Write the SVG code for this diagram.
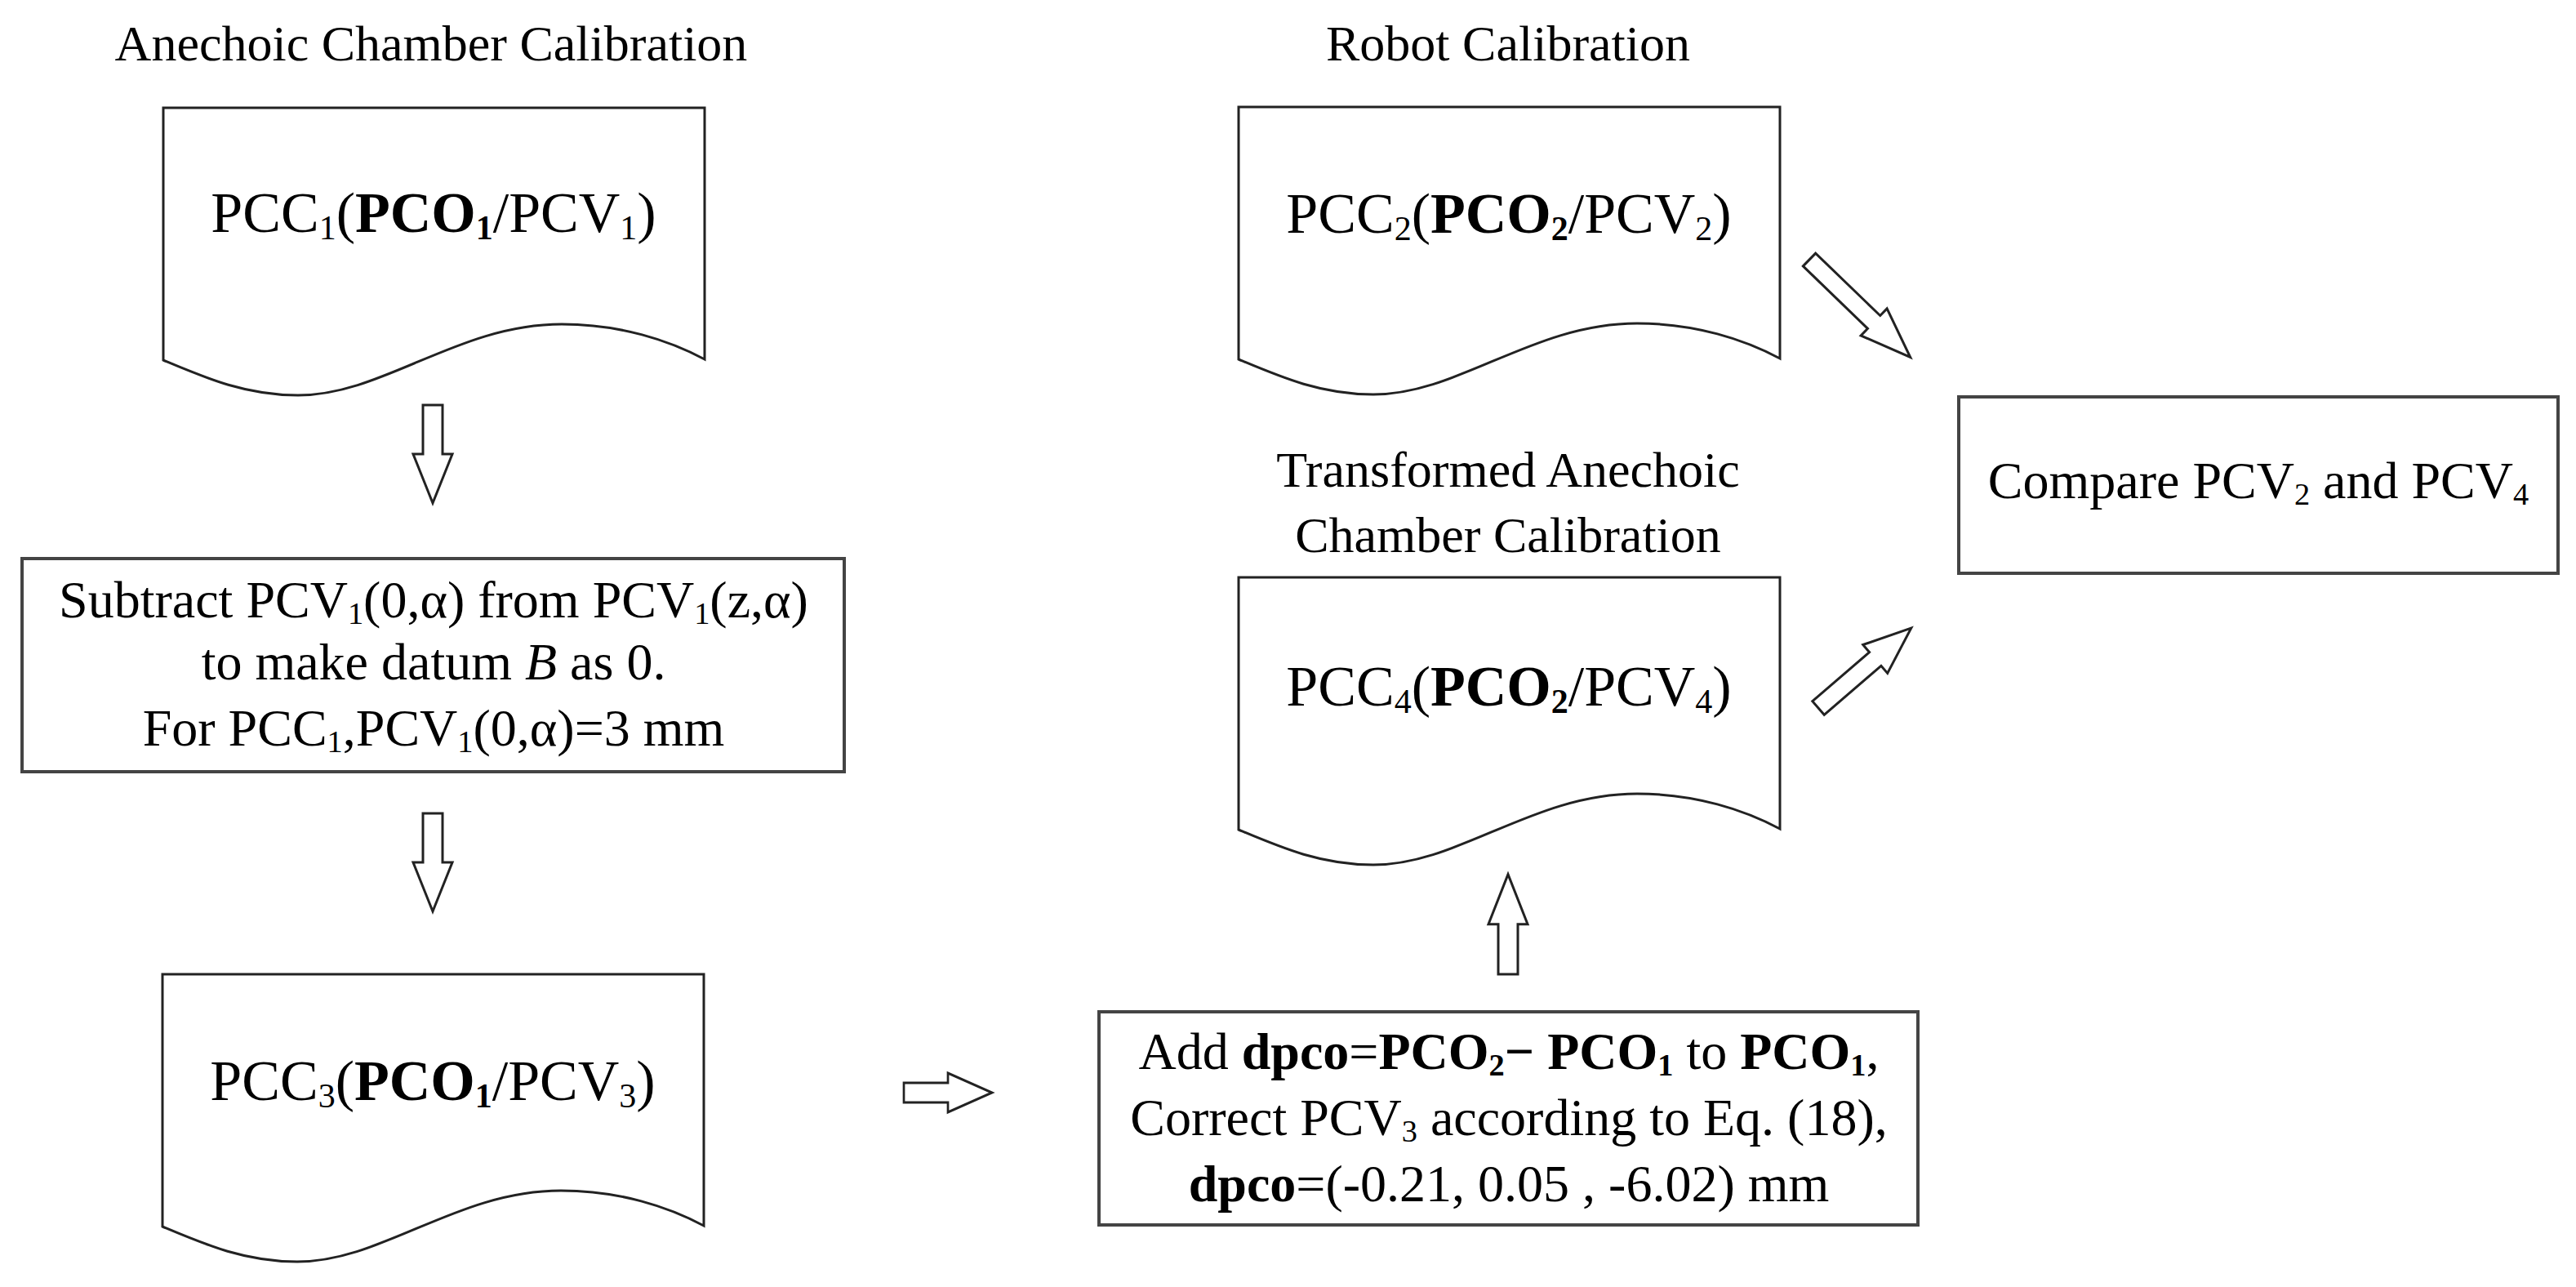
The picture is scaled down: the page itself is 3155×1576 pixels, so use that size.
<svg xmlns="http://www.w3.org/2000/svg" width="3155" height="1576" viewBox="0 0 3155 1576">
<style>
text{font-family:"Liberation Serif","Times New Roman",serif;fill:#000}
.t{font-size:62px}
.d{font-size:70px}
.b{font-size:64px}
.s{font-size:60%;baseline-shift:-22%}
.bold{font-weight:bold}
.shape{fill:#fff;stroke:#222;stroke-width:3}
.box{fill:#fff;stroke:#444;stroke-width:4}
</style>
<defs>
<path id="doc" d="M0,0 H663 V308 C620,285 560,265 488,265 C360,265 270,352 165,352 C100,352 50,330 0,309 Z"/>
<polygon id="ar" points="-12,0 12,0 12,60 24,60 0,120 -24,60 -12,60"/>
<polygon id="arL" points="-11,0 11,0 11,110 23,110 0,172 -23,110 -11,110"/>
<polygon id="arM" points="-11,0 11,0 11,92 23,92 0,150 -23,92 -11,92"/>
</defs>
<rect width="3155" height="1576" fill="#fff"/>
<g id="title1"><text class="t" x="528" y="74" text-anchor="middle">Anechoic Chamber Calibration</text></g>
<g id="title2"><text class="t" x="1847" y="74" text-anchor="middle">Robot Calibration</text></g>
<g id="title4"><text class="t" x="1847" y="596" text-anchor="middle">Transformed Anechoic</text><text class="t" x="1847" y="676" text-anchor="middle">Chamber Calibration</text></g>
<g id="doc1"><use href="#doc" class="shape" x="200" y="132"/><text class="d" x="531" y="284" text-anchor="middle">PCC<tspan class="s">1</tspan>(<tspan class="bold">PCO<tspan class="s">1</tspan></tspan>/PCV<tspan class="s">1</tspan>)</text></g>
<g id="doc2"><use href="#doc" class="shape" x="1517" y="131"/><text class="d" x="1848" y="285" text-anchor="middle">PCC<tspan class="s">2</tspan>(<tspan class="bold">PCO<tspan class="s">2</tspan></tspan>/PCV<tspan class="s">2</tspan>)</text></g>
<g id="doc3"><use href="#doc" class="shape" x="199" y="1193"/><text class="d" x="530" y="1347" text-anchor="middle">PCC<tspan class="s">3</tspan>(<tspan class="bold">PCO<tspan class="s">1</tspan></tspan>/PCV<tspan class="s">3</tspan>)</text></g>
<g id="doc4"><use href="#doc" class="shape" x="1517" y="707"/><text class="d" x="1848" y="864" text-anchor="middle">PCC<tspan class="s">4</tspan>(<tspan class="bold">PCO<tspan class="s">2</tspan></tspan>/PCV<tspan class="s">4</tspan>)</text></g>
<g id="box2"><rect class="box" x="27" y="684" width="1007" height="261"/>
<text class="b" x="531" y="756" text-anchor="middle">Subtract PCV<tspan class="s">1</tspan>(0,α) from PCV<tspan class="s">1</tspan>(z,α)</text>
<text class="b" x="531" y="832" text-anchor="middle">to make datum <tspan font-style="italic">B</tspan> as 0.</text>
<text class="b" x="531" y="913" text-anchor="middle">For PCC<tspan class="s">1</tspan>,PCV<tspan class="s">1</tspan>(0,α)=3 mm</text></g>
<g id="box4"><rect class="box" x="1346" y="1239" width="1003" height="261"/>
<text class="b" x="1848" y="1309" text-anchor="middle">Add <tspan class="bold">dpco</tspan>=<tspan class="bold">PCO<tspan class="s">2</tspan>− PCO<tspan class="s">1</tspan></tspan> to <tspan class="bold">PCO<tspan class="s">1</tspan></tspan>,</text>
<text class="b" x="1848" y="1390" text-anchor="middle">Correct PCV<tspan class="s">3</tspan> according to Eq. (18),</text>
<text class="b" x="1848" y="1471" text-anchor="middle"><tspan class="bold">dpco</tspan>=(-0.21, 0.05 , -6.02) mm</text></g>
<g id="compare"><rect class="box" x="2399" y="486" width="734" height="216"/>
<text class="b" x="2766" y="610" text-anchor="middle">Compare PCV<tspan class="s">2</tspan> and PCV<tspan class="s">4</tspan></text></g>
<g id="connectors" class="shape">
<use href="#ar" transform="translate(530,496)"/>
<use href="#ar" transform="translate(530,996)"/>
<use href="#ar" transform="translate(1847,1193) rotate(180) scale(1,1.02)"/>
<use href="#ar" transform="translate(1107,1338) rotate(-90) scale(1,0.9)"/>
<use href="#arL" transform="translate(2216,318) rotate(-46)"/>
<use href="#arM" transform="translate(2227,867) rotate(-130.7)"/>
</g>
</svg>
